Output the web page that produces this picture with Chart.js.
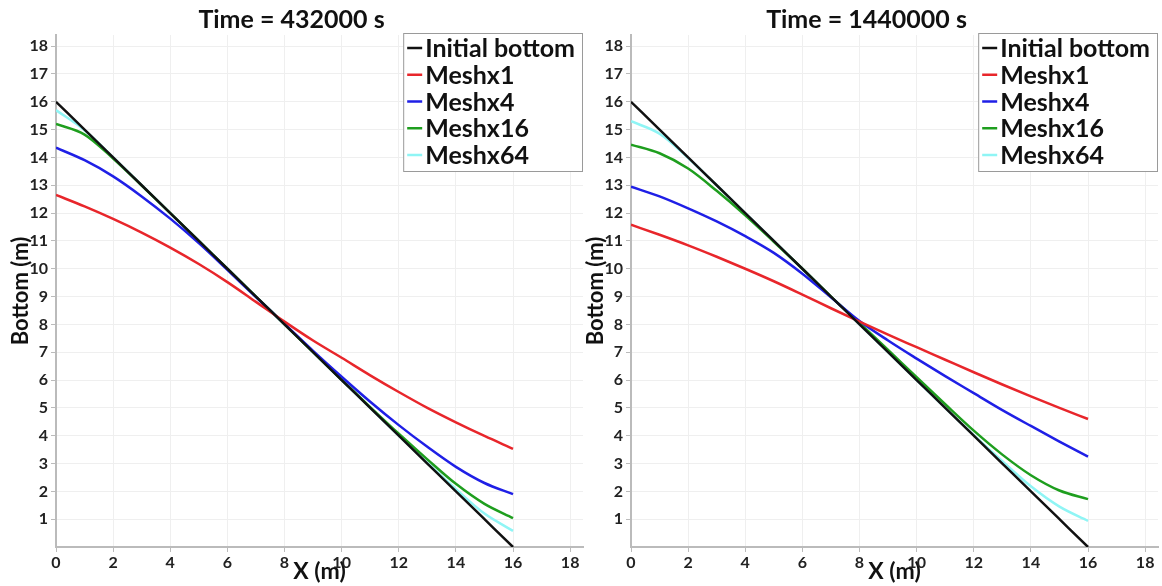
<!DOCTYPE html>
<html>
<head>
<meta charset="utf-8">
<script src="https://cdn.jsdelivr.net/npm/chart.js@4"></script>
<style>
  body { margin: 0; background: #fff; }
  .panel { position: absolute; top: 0; }
</style>
</head>
<body>
<div class="panel" style="left:0"><canvas id="chartLeft" width="587" height="586"></canvas></div>
<div class="panel" style="left:575px"><canvas id="chartRight" width="587" height="586"></canvas></div>
<script>
// x positions (m) where the profiles were read
const xs = [0, 1, 2, 3, 4, 5, 6, 7, 8, 9, 10, 11, 12, 13, 14, 15, 16];
const xTicks = [0, 2, 4, 6, 8, 10, 12, 14, 16, 18];
const yTicks = [1, 2, 3, 4, 5, 6, 7, 8, 9, 10, 11, 12, 13, 14, 15, 16, 17, 18];

const seriesNames = ['Initial bottom', 'Meshx1', 'Meshx4', 'Meshx16', 'Meshx64'];
const seriesColors = ['#111111', '#e8262b', '#1f1fe6', '#1e9e1e', '#8ff5f5'];

const initialBottom = [16, 15, 14, 13, 12, 11, 10, 9, 8, 7, 6, 5, 4, 3, 2, 1, 0];

// Time = 432000 s
const mesh1Early  = [12.65, 12.24, 11.79, 11.3, 10.76, 10.17, 9.52, 8.81, 8.1, 7.42, 6.8, 6.17, 5.57, 5.0, 4.48, 3.99, 3.53];
const mesh4Early  = [14.35, 13.9, 13.32, 12.6, 11.8, 10.92, 9.96, 8.98, 8.02, 7.05, 6.12, 5.22, 4.38, 3.6, 2.88, 2.3, 1.9];
const mesh16Early = [15.2, 14.82, 13.96, 12.99, 12.0, 11.0, 10.0, 9.0, 8.0, 7.0, 6.01, 5.03, 4.07, 3.15, 2.27, 1.55, 1.04];
const mesh64Early = [15.7, 14.98, 14.0, 13.0, 12.0, 11.0, 10.0, 9.0, 8.0, 7.0, 6.0, 5.0, 4.0, 3.02, 2.08, 1.2, 0.58];

// Time = 1440000 s
const mesh1Late  = [11.58, 11.22, 10.84, 10.43, 10.0, 9.55, 9.07, 8.58, 8.1, 7.63, 7.18, 6.73, 6.28, 5.84, 5.41, 5.0, 4.6];
const mesh4Late  = [12.95, 12.6, 12.17, 11.7, 11.17, 10.57, 9.82, 8.97, 8.12, 7.42, 6.77, 6.14, 5.53, 4.92, 4.35, 3.79, 3.25];
const mesh16Late = [14.46, 14.15, 13.6, 12.8, 11.92, 10.97, 10.0, 9.0, 8.05, 7.08, 6.1, 5.13, 4.18, 3.32, 2.58, 2.03, 1.72];
const mesh64Late = [15.3, 14.85, 13.98, 13.0, 12.0, 11.0, 10.0, 9.0, 8.0, 7.0, 6.0, 5.0, 4.02, 3.08, 2.18, 1.45, 0.94];

const FONT = 'Lato, "Open Sans", sans-serif';

// legend drawn as a boxed list inside the top-right of the plot
const boxLegend = {
    id: 'boxLegend',
    afterDraw(chart) {
        const c = chart.ctx;
        const area = chart.chartArea;
        c.save();
        c.font = 'bold 25px ' + FONT;
        let textW = 0;
        chart.data.datasets.forEach(ds => { textW = Math.max(textW, c.measureText(ds.label).width); });
        const rowH = 26.75;
        const boxW = textW + 30;
        const boxH = 139;
        const left = area.right - boxW;
        const top = area.top - 2;
        c.fillStyle = '#fff';
        c.fillRect(left, top, boxW, boxH);
        c.strokeStyle = '#9a9a9a';
        c.lineWidth = 1;
        c.strokeRect(left + 0.5, top + 0.5, boxW - 1, boxH - 1);
        chart.data.datasets.forEach((ds, i) => {
            const y = top + 15 + i * rowH;
            c.strokeStyle = ds.borderColor;
            c.lineWidth = 2.5;
            c.beginPath();
            c.moveTo(left + 4, y);
            c.lineTo(left + 19, y);
            c.stroke();
            c.fillStyle = '#111';
            c.textBaseline = 'middle';
            c.textAlign = 'left';
            c.fillText(ds.label, left + 22, y + 1);
        });
        c.restore();
    }
};

function buildDatasets(series) {
    return series.map((values, i) => ({
        label: seriesNames[i],
        data: xs.map((x, j) => ({ x: x, y: values[j] })),
        borderColor: seriesColors[i],
        backgroundColor: seriesColors[i],
        borderWidth: 2.5,
        pointRadius: 0,
        cubicInterpolationMode: 'monotone'
    }));
}

function drawPanel(canvasId, title, series) {
    const ctx = document.getElementById(canvasId).getContext('2d');
    return new Chart(ctx, {
        type: 'line',
        data: { datasets: buildDatasets(series) },
        options: {
            responsive: false,
            animation: false,
            layout: { padding: { right: 4 } },
            plugins: {
                legend: { display: false },
                tooltip: { enabled: false },
                title: {
                    display: true,
                    text: title,
                    color: '#111',
                    font: { family: FONT, size: 25, weight: 'bold' },
                    padding: { top: 5, bottom: 0 }
                }
            },
            scales: {
                x: {
                    type: 'linear',
                    min: 0,
                    max: 18.45,
                    afterFit: scale => { scale.height = 39; },
                    afterBuildTicks: scale => { scale.ticks = xTicks.map(v => ({ value: v })); },
                    ticks: {
                        color: '#222',
                        font: { family: FONT, size: 16, weight: 'bold' },
                        padding: 1,
                        maxRotation: 0
                    },
                    grid: { color: '#efefef', lineWidth: 1, tickColor: '#bbb', tickLength: 5 },
                    border: { color: '#bbb', width: 2 },
                    title: {
                        display: true,
                        text: 'X (m)',
                        color: '#111',
                        font: { family: FONT, size: 23, weight: 'bold' },
                        padding: { top: 0, bottom: 1 }
                    }
                },
                y: {
                    type: 'linear',
                    min: 0,
                    max: 18.4,
                    afterFit: scale => { scale.width = 56; },
                    afterBuildTicks: scale => { scale.ticks = yTicks.map(v => ({ value: v })); },
                    ticks: {
                        color: '#222',
                        font: { family: FONT, size: 16, weight: 'bold' },
                        padding: 3
                    },
                    grid: { color: '#efefef', lineWidth: 1, tickColor: '#bbb', tickLength: 5 },
                    border: { color: '#bbb', width: 2 },
                    title: {
                        display: true,
                        text: 'Bottom (m)',
                        color: '#111',
                        font: { family: FONT, size: 22, weight: 'bold' },
                        padding: { top: 8, bottom: 0 }
                    }
                }
            }
        },
        plugins: [boxLegend]
    });
}

drawPanel('chartLeft', 'Time = 432000 s', [initialBottom, mesh1Early, mesh4Early, mesh16Early, mesh64Early]);
drawPanel('chartRight', 'Time = 1440000 s', [initialBottom, mesh1Late, mesh4Late, mesh16Late, mesh64Late]);
</script>
</body>
</html>
